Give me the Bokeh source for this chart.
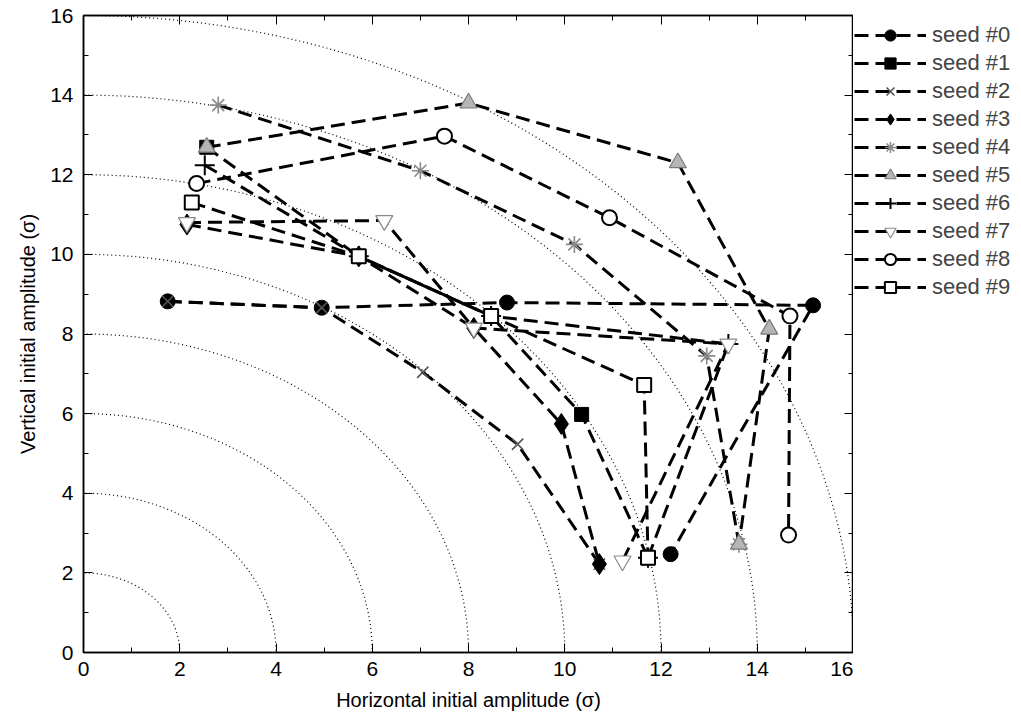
from bokeh.plotting import figure
from bokeh.layouts import row
from bokeh.models import Range1d, LinearAxis, Legend, LegendItem, FixedTicker, CustomJSTickFormatter
from bokeh.embed import file_html
from bokeh.resources import INLINE

# ---- data ----
labels = ["seed #0", "seed #1", "seed #2", "seed #3", "seed #4",
          "seed #5", "seed #6", "seed #7", "seed #8", "seed #9"]
x0 = [1.75, 4.95, 8.8, 15.16, 12.2];  y0 = [8.82, 8.66, 8.79, 8.72, 2.47]
x1 = [2.56, 5.72, 8.47, 10.35, 11.73]; y1 = [12.69, 9.95, 8.45, 5.98, 2.38]
x2 = [1.75, 4.95, 7.05, 9.02, 10.72];  y2 = [8.82, 8.66, 7.04, 5.23, 2.22]
x3 = [2.15, 5.72, 8.11, 9.93, 10.72];  y3 = [10.75, 9.95, 8.15, 5.74, 2.22]
x4 = [2.8, 7.0, 10.2, 12.95, 13.62];   y4 = [13.75, 12.1, 10.25, 7.45, 2.72]
x5 = [2.56, 8.0, 12.35, 14.25, 13.62]; y5 = [12.69, 13.8, 12.3, 8.12, 2.72]
x6 = [2.52, 5.72, 8.47, 13.4, 11.73];  y6 = [12.24, 9.95, 8.45, 7.75, 2.38]
x7 = [2.15, 6.25, 8.11, 13.4, 11.2];   y7 = [10.8, 10.85, 8.15, 7.75, 2.3]
x8 = [2.35, 7.5, 10.93, 14.68, 14.65]; y8 = [11.78, 12.97, 10.92, 8.45, 2.95]
x9 = [2.25, 5.72, 8.47, 11.65, 11.73]; y9 = [11.3, 9.95, 8.45, 6.72, 2.38]
contour_radii = [2, 4, 6, 8, 10, 12, 14, 16]
major_ticks = [0, 2, 4, 6, 8, 10, 12, 14, 16]
minor_ticks = list(range(0, 17))

xs = [x0, x1, x2, x3, x4, x5, x6, x7, x8, x9]
ys = [y0, y1, y2, y3, y4, y5, y6, y7, y8, y9]

styles = [
    dict(marker="circle", size=15, fill_color="black", line_color="black", line_width=1),
    dict(marker="square", size=14, fill_color="black", line_color="black", line_width=1),
    dict(marker="x", size=16, fill_color=None, line_color="#555555", line_width=1.6),
    dict(marker="diamond", size=21, fill_color="black", line_color="black", line_width=1),
    dict(marker="asterisk", size=17, fill_color=None, line_color="#8a8a8a", line_width=1.6),
    dict(marker="triangle", size=17, fill_color="#b5b5b5", line_color="#7a7a7a", line_width=1.2),
    dict(marker="cross", size=20, fill_color=None, line_color="black", line_width=2),
    dict(marker="inverted_triangle", size=17, fill_color="white", line_color="#8a8a8a", line_width=1.2),
    dict(marker="circle", size=15, fill_color="white", line_color="black", line_width=2),
    dict(marker="square", size=14, fill_color="white", line_color="black", line_width=2),
]
LINE = dict(line_color="black", line_width=3, line_dash="14 7")

FONT = "Liberation Sans"
H = 712

p = figure(frame_width=770, frame_height=637, height=H,
           x_range=Range1d(0, 16), y_range=Range1d(0, 16),
           output_backend="svg", toolbar_location=None,
           min_border_left=83, min_border_top=15, min_border_bottom=60,
           min_border_right=0)
p.xgrid.visible = False
p.ygrid.visible = False
p.outline_line_color = "black"
p.outline_line_width = 1.5
p.background_fill_color = "white"
p.border_fill_color = "white"

p.ellipse(x=[0] * len(contour_radii), y=[0] * len(contour_radii),
          width=[2 * r for r in contour_radii], height=[2 * r for r in contour_radii],
          fill_color=None, line_color="black", line_width=1.2, line_dash="1 3")

for xv, yv in zip(xs, ys):
    p.line(xv, yv, **LINE)
for xv, yv, st in zip(xs, ys, styles):
    p.scatter(xv, yv, **st)

for ax in (p.xaxis[0], p.yaxis[0]):
    ax.major_tick_in = 9
    ax.major_tick_out = 0
    ax.minor_tick_in = 5
    ax.minor_tick_out = 0
    ax.axis_line_color = "black"
    ax.axis_line_width = 1.5
    ax.major_label_text_font = FONT
    ax.major_label_text_font_size = "21px"
    ax.major_label_text_color = "black"
    ax.axis_label_text_font = FONT
    ax.axis_label_text_font_size = "20px"
    ax.axis_label_text_font_style = "normal"
    ax.axis_label_text_color = "black"
p.xaxis.ticker = FixedTicker(ticks=major_ticks, minor_ticks=minor_ticks)
p.yaxis.ticker = FixedTicker(ticks=major_ticks, minor_ticks=minor_ticks)
p.xaxis.axis_label = "Horizontal initial amplitude (σ)"
p.yaxis.axis_label = "Vertical initial amplitude (σ)"
p.xaxis.major_label_standoff = 9
p.yaxis.major_label_standoff = 10
p.xaxis.axis_label_standoff = 10
p.yaxis.axis_label_standoff = 8

blank = CustomJSTickFormatter(code="return ''")
for loc in ("above", "right"):
    ax = LinearAxis(ticker=FixedTicker(ticks=major_ticks, minor_ticks=minor_ticks),
                    formatter=blank, major_tick_in=9, major_tick_out=0,
                    minor_tick_in=5, minor_tick_out=0, major_label_standoff=0,
                    axis_line_width=1.5)
    p.add_layout(ax, loc)

# legend panel (same series; its ranges keep the marks themselves out of view)
pl = figure(width=165, height=H, x_range=Range1d(-20, -19), y_range=Range1d(-20, -19),
            output_backend="svg", toolbar_location=None,
            x_axis_location=None, y_axis_location=None, min_border=0)
pl.grid.visible = False
pl.outline_line_color = None
pl.background_fill_color = "white"
pl.border_fill_color = "white"
items = []
for lab, xv, yv, st in zip(labels, xs, ys, styles):
    lr = pl.line(xv, yv, **LINE)
    mr = pl.scatter(xv, yv, **st)
    items.append(LegendItem(label=lab, renderers=[lr, mr]))
legend = Legend(items=items, location=(1, 350), glyph_width=72, glyph_height=28,
                spacing=0, label_text_font=FONT, label_text_font_size="22px",
                label_height=28, label_standoff=6, padding=0, margin=0,
                border_line_color=None, background_fill_alpha=0)
pl.add_layout(legend)

layout = row(p, pl)
open("out.html", "w").write(file_html(layout, INLINE))
